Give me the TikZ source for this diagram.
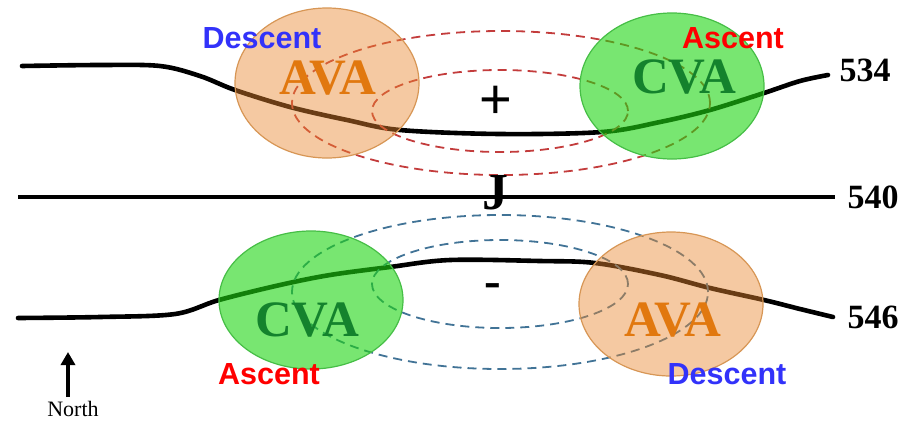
\documentclass[tikz,border=0pt]{standalone}
\usepackage{fontspec}
\setmainfont{Liberation Serif}
\newfontfamily\labelsans{Liberation Sans}
\usetikzlibrary{arrows.meta}

\definecolor{orangefill}{RGB}{233,135,48}
\definecolor{orangeedge}{RGB}{215,150,85}
\definecolor{greenfill}{RGB}{30,213,18}
\definecolor{greenedge}{RGB}{70,190,70}
\definecolor{avatext}{RGB}{225,120,15}
\definecolor{cvatext}{RGB}{20,130,45}
\definecolor{descblue}{RGB}{50,50,250}
\definecolor{ascred}{RGB}{255,0,0}
\definecolor{reddash}{RGB}{195,60,60}
\definecolor{bluedash}{RGB}{65,115,150}

\tikzset{
  contour/.style={line width=4.6pt, line cap=round, black},
  jetline/.style={line width=3.8pt, black},
  vortdash/.style={line width=1.8pt, dash pattern=on 9pt off 6pt},
  avablob/.style={fill=orangefill, fill opacity=0.45, draw=orangeedge, line width=1.2pt},
  cvablob/.style={fill=greenfill, fill opacity=0.6, draw=greenedge, line width=1.2pt},
  blobtext/.style={inner sep=0pt, font=\fontsize{51}{51}\selectfont\bfseries},
  motion/.style={inner sep=0pt, font=\labelsans\fontsize{30.5}{30.5}\selectfont\bfseries},
  height/.style={inner sep=0pt, font=\fontsize{34}{34}\selectfont\bfseries},
  sign/.style={inner sep=0pt},
}

\begin{document}
\begin{tikzpicture}[x=1pt, y=-1pt]
  \useasboundingbox (0,0) rectangle (917,421);

  % geopotential height contours
  \draw[contour] plot[smooth, tension=0.55] coordinates {
    (22,66) (100,65) (160,66) (200,76) (235,90) (290,107) (347,120)
    (400,130) (500,134) (602,132) (660,122) (710,110) (764,93) (800,81) (828,75)};
  \coordinate (jwest) at (18,197);
  \coordinate (jeast) at (835,197);
  \draw[jetline] (jwest) -- (jeast);
  \draw[contour] plot[smooth, tension=0.55] coordinates {
    (18,318) (100,317) (175,314) (219,300) (280,285) (330,275) (390,267)
    (450,260) (540,261) (595,263) (660,275) (710,288) (764,300) (800,309) (833,317)};

  % circulation around the positive and negative vorticity centres
  \draw[vortdash, reddash] (501,103) ellipse [x radius=209pt, y radius=72pt];
  \draw[vortdash, reddash] (500,111) ellipse [x radius=128pt, y radius=41pt];
  \draw[vortdash, bluedash] (500,292) ellipse [x radius=208pt, y radius=77pt];
  \draw[vortdash, bluedash] (500,284) ellipse [x radius=128pt, y radius=44pt];

  % advection regions
  \draw[avablob] (327,83) ellipse [x radius=92pt, y radius=75pt];
  \draw[cvablob] (672,86) ellipse [x radius=92pt, y radius=73pt];
  \draw[cvablob] (311,300) ellipse [x radius=92pt, y radius=69pt];
  \draw[avablob] (671,304) ellipse [x radius=92pt, y radius=72pt];

  \node[blobtext, text=avatext] (avatop) at (328,78) {AVA};
  \node[blobtext, text=cvatext] (cvatop) at (684,77) {CVA};
  \node[blobtext, text=cvatext] (cvabot) at (307,320) {CVA};
  \node[blobtext, text=avatext] (avabot) at (673,320) {AVA};

  \node[motion, text=descblue] (desctop) at (262,38) {Descent};
  \node[motion, text=ascred] (asctop) at (733,38) {Ascent};
  \node[motion, text=ascred] (ascbot) at (269,374) {Ascent};
  \node[motion, text=descblue] (descbot) at (727,374) {Descent};

  \node[sign, font=\labelsans\fontsize{56}{56}\selectfont] (plus) at (496,102) {+};
  \node[sign, font=\fontsize{50}{50}\selectfont\bfseries] (minus) at (493,291) {-};
  \node[sign, font=\fontsize{52}{52}\selectfont\bfseries] (jet) at (495,193) {J};

  \node[height] (h534) at (865,70) {534};
  \node[height] (h540) at (873,197) {540};
  \node[height] (h546) at (873,317) {546};

  % north arrow
  \coordinate (ntail) at (68,397);
  \coordinate (nhead) at (68,352);
  \draw[line width=4pt, -{Triangle[width=14pt, length=13pt]}] (ntail) -- (nhead);
  \node[inner sep=0pt, font=\fontsize{22}{22}\selectfont] (north) at (73,409) {North};
\end{tikzpicture}
\end{document}
